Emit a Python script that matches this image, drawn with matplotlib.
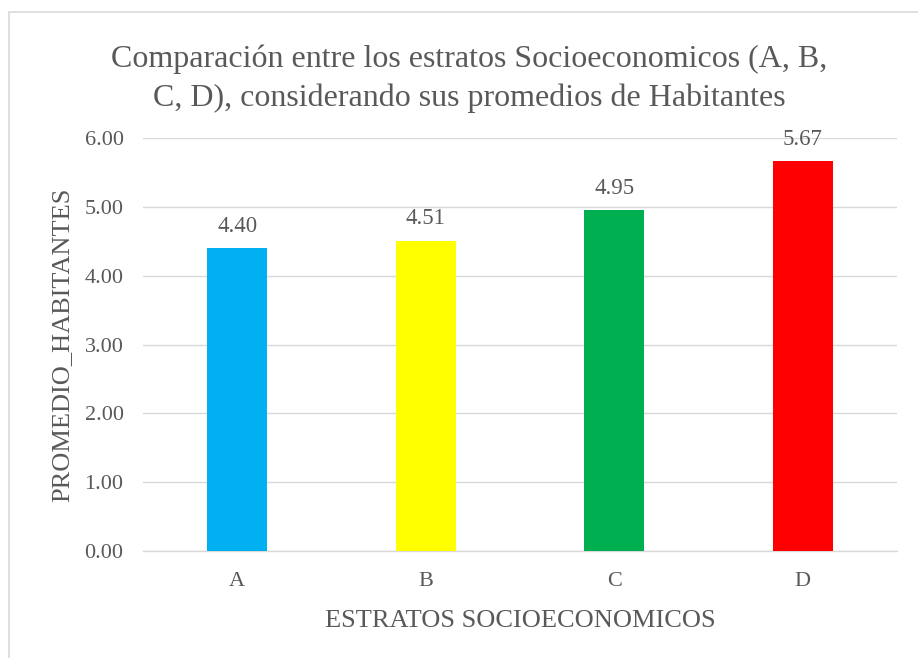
import matplotlib.pyplot as plt
from matplotlib.patches import Rectangle

# data
estratos = ['A', 'B', 'C', 'D']
promedios = [4.40, 4.51, 4.95, 5.67]
colores = ['#00b0f0', '#ffff00', '#00b050', '#ff0000']
yticks = [0, 1, 2, 3, 4, 5, 6]

plt.rcParams['font.family'] = ['Liberation Serif', 'DejaVu Serif']
txt = '#595959'

fig = plt.figure(figsize=(9.18, 6.58), dpi=100)
# chart border
fig.patches.append(Rectangle((9 / 918, -0.01), 1.0, 1 - 12 / 658 + 0.01, transform=fig.transFigure,
                             fill=False, edgecolor='#d9d9d9', linewidth=1.2))

ax = fig.add_axes([143 / 918, 107 / 658, 754 / 918, 413 / 658])
x = range(len(estratos))
bars = ax.bar(x, promedios, width=0.32, color=colores, zorder=3)

for b, v in zip(bars, promedios):
    ax.annotate(f'{v:.2f}', (b.get_x() + b.get_width() / 2, v), xytext=(0, 8),
                textcoords='offset points', ha='center', va='bottom', fontsize=16.5, color=txt)

ax.set_xlim(-0.5, len(estratos) - 0.5)
ax.set_ylim(0, 6)
ax.set_yticks(yticks)
ax.set_yticklabels([f'{t:.2f}' for t in yticks])
ax.set_xticks(list(x))
ax.set_xticklabels(estratos)
ax.tick_params(axis='both', length=0, labelsize=16, colors=txt)
ax.tick_params(axis='x', pad=15)
ax.tick_params(axis='y', pad=14)
ax.grid(axis='y', color='#d9d9d9', linewidth=1, zorder=0)
for s in ['top', 'right', 'left']:
    ax.spines[s].set_visible(False)
ax.spines['bottom'].set_color('#d9d9d9')
ax.spines['bottom'].set_linewidth(1)

ax.set_xlabel('ESTRATOS SOCIOECONOMICOS', fontsize=19, color=txt, labelpad=14)
ax.set_ylabel('PROMEDIO_HABITANTES', fontsize=19, color=txt, labelpad=8)

fig.text(469 / 918, 0.8796, 'Comparación entre los estratos Socioeconomicos (A, B,\nC, D), considerando sus promedios de Habitantes',
         ha='center', va='center', fontsize=23, color=txt, linespacing=1.42)

fig.savefig('out.png', dpi=100)
